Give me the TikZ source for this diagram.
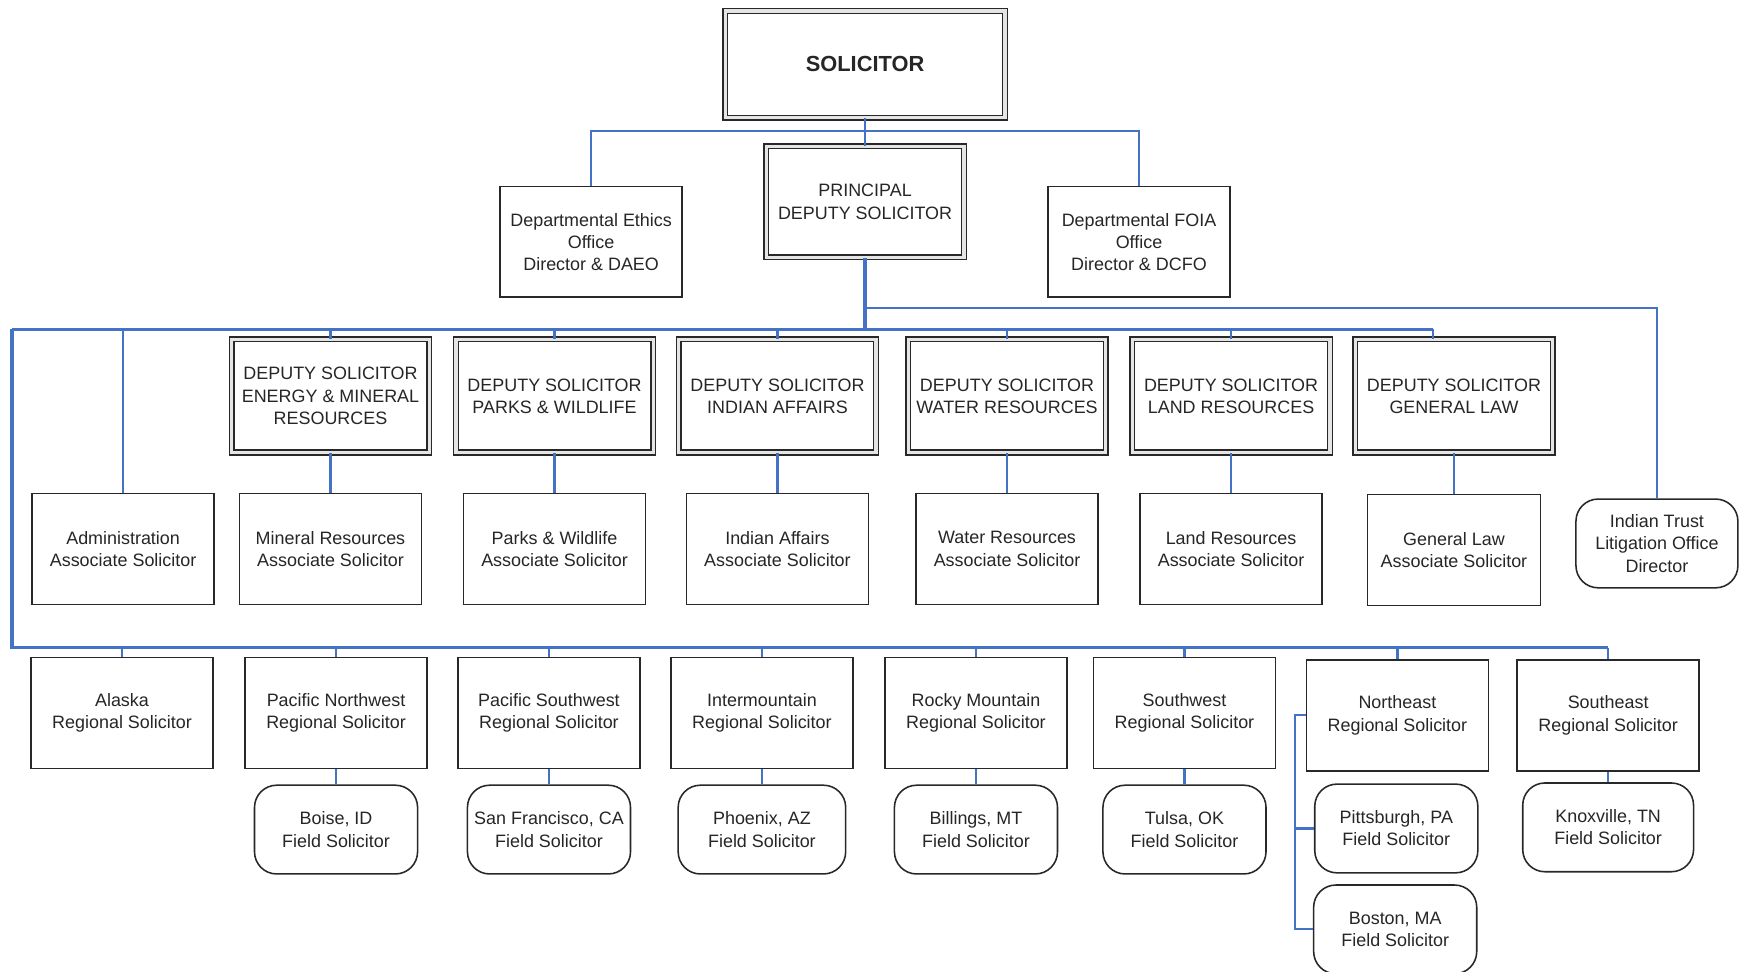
\documentclass[tikz,border=0pt]{standalone}
\usepackage{fontspec}
\setmainfont{Liberation Sans}
\usepackage{xcolor}
\usepackage{tikz}
\usetikzlibrary{positioning}
\definecolor{linkblue}{RGB}{68,114,196}
\definecolor{boxline}{RGB}{40,40,40}

\begin{document}
\begin{tikzpicture}[x=0.025cm, y=-0.025cm,
    every node/.style={font=\fontsize{11.5}{14.2}\selectfont, align=center, inner sep=0pt, text=black!85},
    office/.style={draw=boxline, line width=1pt, fill=white, minimum width=4.1cm, minimum height=2.5cm},
    deputy/.style={draw=boxline, line width=0.85pt, double=black!10, double distance=2.2pt, fill=white, minimum width=4.45cm, minimum height=2.55cm},
    field/.style={draw=boxline, line width=1pt, fill=white, rounded corners=0.5cm, minimum width=3.675cm, minimum height=2.0cm},
    link/.style={draw=linkblue, line width=1.4pt},
    bus/.style={draw=linkblue, line width=2.2pt}]
    \useasboundingbox (0,0) rectangle (1568,876);

    % top of the chart
    \node[deputy, minimum width=6.3cm, minimum height=2.4cm, font=\fontsize{14}{16}\selectfont\bfseries] (sol) at (780,58) {SOLICITOR};
    \node[deputy, minimum height=2.5cm] (pds) at (780,182) {PRINCIPAL\\DEPUTY SOLICITOR};
    \node[office] (eth) at (533,218) {Departmental Ethics\\Office\\Director \& DAEO};
    \node[office] (foia) at (1027,218) {Departmental FOIA\\Office\\Director \& DCFO};

    % deputies and associates
    \node[deputy] (energy) at (298,357) {DEPUTY SOLICITOR\\ENERGY \& MINERAL\\RESOURCES};
    \node[deputy] (parks) at (500,357) {DEPUTY SOLICITOR\\PARKS \& WILDLIFE};
    \node[deputy] (indian) at (701,357) {DEPUTY SOLICITOR\\INDIAN AFFAIRS};
    \node[deputy] (water) at (908,357) {DEPUTY SOLICITOR\\WATER RESOURCES};
    \node[deputy] (land) at (1110,357) {DEPUTY SOLICITOR\\LAND RESOURCES};
    \node[deputy] (genlaw) at (1311,357) {DEPUTY SOLICITOR\\GENERAL LAW};

    \node[office] (adm) at (111,495) {Administration\\Associate Solicitor};
    \node[office] (min) at (298,495) {Mineral Resources\\Associate Solicitor};
    \node[office] (pw) at (500,495) {Parks \& Wildlife\\Associate Solicitor};
    \node[office] (ia) at (701,495) {Indian Affairs\\Associate Solicitor};
    \node[office] (wr) at (908,495) {Water Resources\\Associate Solicitor};
    \node[office] (lr) at (1110,495) {Land Resources\\Associate Solicitor};
    \node[office, minimum width=3.9cm] (gl) at (1311,496) {General Law\\Associate Solicitor};
    \node[field, minimum width=3.65cm] (itl) at (1494,490) {Indian Trust\\Litigation Office\\Director};

    % regional and field offices
    \node[office] (ak) at (110,643) {Alaska\\Regional Solicitor};
    \node[office] (pnw) at (303,643) {Pacific Northwest\\Regional Solicitor};
    \node[office] (psw) at (495,643) {Pacific Southwest\\Regional Solicitor};
    \node[office] (im) at (687,643) {Intermountain\\Regional Solicitor};
    \node[office] (rm) at (880,643) {Rocky Mountain\\Regional Solicitor};
    \node[office] (sw) at (1068,643) {Southwest\\Regional Solicitor};
    \node[office] (ne) at (1260,645) {Northeast\\Regional Solicitor};
    \node[office] (se) at (1450,645) {Southeast\\Regional Solicitor};

    \node[field] (boi) at (303,748) {Boise, ID\\Field Solicitor};
    \node[field] (sf) at (495,748) {San Francisco, CA\\Field Solicitor};
    \node[field, minimum width=3.775cm] (phx) at (687,748) {Phoenix, AZ\\Field Solicitor};
    \node[field] (bil) at (880,748) {Billings, MT\\Field Solicitor};
    \node[field] (tul) at (1068,748) {Tulsa, OK\\Field Solicitor};
    \node[field] (pit) at (1259,747) {Pittsburgh, PA\\Field Solicitor};
    \node[field] (bos) at (1258,838) {Boston, MA\\Field Solicitor};
    \node[field, minimum width=3.85cm] (kno) at (1450,746) {Knoxville, TN\\Field Solicitor};

    % connectors
    \coordinate (solbus) at (780,118);
    \coordinate (trustbus) at (780,278);
    \coordinate (depbus) at (780,297);
    \coordinate (leftbus) at (11,297);
    \coordinate (glbus) at (1292,297);
    \coordinate (regbus) at (11,584);
    \coordinate (nebus) at (1168,645);

    \draw[link] (sol.south) -- (solbus);
    \draw[link] (eth.north) |- (solbus) -| (foia.north);
    \draw[link] (solbus) -- (pds.north);
    \draw[bus] (pds.south) -- (depbus);
    \draw[link] (trustbus) -| (itl.north);
    \draw[bus] (leftbus) -- (glbus);
    \draw[bus] (leftbus) -- (regbus) -- (regbus -| se.north);
    \draw[link] (glbus) -- (glbus |- genlaw.north);
    \foreach \n in {adm,energy,parks,indian,water,land}
        \draw[link] (\n.north |- depbus) -- (\n.north);
    \foreach \d/\a in {energy/min,parks/pw,indian/ia,water/wr,land/lr,genlaw/gl}
        \draw[link] (\d.south) -- (\a.north);
    \foreach \r in {ak,pnw,psw,im,rm,sw,ne,se}
        \draw[link] (\r.north |- regbus) -- (\r.north);
    \foreach \r/\f in {pnw/boi,psw/sf,im/phx,rm/bil,sw/tul,se/kno}
        \draw[link] (\r.south) -- (\f.north);
    \draw[link] (ne.west) -- (nebus) |- (bos.west);
    \draw[link] (nebus |- pit.west) -- (pit.west);
\end{tikzpicture}
\end{document}
